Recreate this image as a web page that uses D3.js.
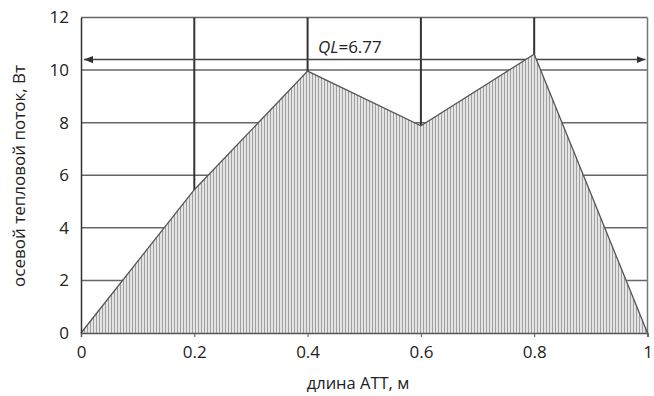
<!DOCTYPE html>
<html><head><meta charset="utf-8">
<script src="https://cdn.jsdelivr.net/npm/d3@7"></script>
<style>body{margin:0;background:#fff}text{font-family:"Open Sans","Noto Sans",sans-serif;fill:#222}</style>
</head><body><svg id="c" width="654" height="396"></svg>
<script>
const xValues = [0, 0.2, 0.4, 0.6, 0.8, 1];
const yValues = [0, 5.45, 9.96, 7.88, 10.6, 0];
const xTicks = [0, 0.2, 0.4, 0.6, 0.8, 1];
const xTickLabels = ["0", "0.2", "0.4", "0.6", "0.8", "1"];
const yTicks = [0, 2, 4, 6, 8, 10, 12];
const arrowLevel = 10.4;
const qlLabel = "=6.77";

const svg = d3.select("#c");
const x = d3.scaleLinear().domain([0, 1]).range([81, 647.5]);
const y = d3.scaleLinear().domain([0, 12]).range([333, 17.5]);

const defs = svg.append("defs");
const pat = defs.append("pattern").attr("id", "stripes").attr("patternUnits", "userSpaceOnUse")
  .attr("width", 3).attr("height", 10);
pat.append("rect").attr("width", 3).attr("height", 10).attr("fill", "#e4e4e4");
pat.append("rect").attr("x", 0).attr("width", 1).attr("height", 10).attr("fill", "#a0a0a0");
const mk = defs.append("marker").attr("id", "ah").attr("viewBox", "0 0 10 10").attr("refX", 10).attr("refY", 5)
  .attr("markerWidth", 6).attr("markerHeight", 6).attr("orient", "auto-start-reverse");
mk.append("path").attr("d", "M0,1L10,5L0,9Z").attr("fill", "#333");

// horizontal grid
svg.append("g").selectAll("line").data(yTicks.filter(d => d > 0)).join("line")
  .attr("x1", x(0)).attr("x2", x(1)).attr("y1", d => y(d)).attr("y2", d => y(d))
  .attr("stroke", "#666").attr("stroke-width", 1.5);
// vertical grid
svg.append("g").selectAll("line").data(xTicks.filter(d => d > 0 && d < 1)).join("line")
  .attr("x1", d => x(d)).attr("x2", d => x(d)).attr("y1", y(12)).attr("y2", y(0))
  .attr("stroke", "#333").attr("stroke-width", 2);
// right border
svg.append("line").attr("x1", x(1)).attr("x2", x(1)).attr("y1", y(12)).attr("y2", y(0))
  .attr("stroke", "#777").attr("stroke-width", 1.5);

// arrow
svg.append("line").attr("x1", x(0) + 3).attr("x2", x(1) - 2).attr("y1", y(arrowLevel)).attr("y2", y(arrowLevel))
  .attr("stroke", "#444").attr("stroke-width", 1.5)
  .attr("marker-start", "url(#ah)").attr("marker-end", "url(#ah)");

// area
const pts = xValues.map((v, i) => [v, yValues[i]]);
svg.append("path").datum(pts)
  .attr("d", d3.area().x(d => x(d[0])).y0(y(0)).y1(d => y(d[1])))
  .attr("fill", "url(#stripes)");
svg.append("path").datum(pts)
  .attr("d", d3.line().x(d => x(d[0])).y(d => y(d[1])))
  .attr("fill", "none").attr("stroke", "#555").attr("stroke-width", 1.3);

// axes
const yAxis = svg.append("g").attr("transform", `translate(${x(0)},0)`)
  .call(d3.axisLeft(y).tickValues(yTicks).tickSize(0).tickPadding(12).tickFormat(d3.format("d")));
yAxis.select(".domain").attr("stroke", "#333").attr("stroke-width", 1.5);
yAxis.selectAll("text").attr("font-size", 17);

const xAxis = svg.append("g").attr("transform", `translate(0,${y(0)})`)
  .call(d3.axisBottom(x).tickValues(xTicks).tickSize(4).tickPadding(9).tickFormat((d, i) => xTickLabels[i]));
xAxis.select(".domain").attr("stroke", "#555").attr("stroke-width", 1.5);
xAxis.selectAll(".tick line").attr("stroke", "#555");
xAxis.selectAll("text").attr("font-size", 17);

// labels
svg.append("text").attr("x", 358).attr("y", 389).attr("text-anchor", "middle").attr("font-size", 16.5)
  .text("длина АТТ, м");
svg.append("text").attr("transform", "translate(25,176) rotate(-90)").attr("text-anchor", "middle").attr("font-size", 17)
  .text("осевой тепловой поток, Вт");
const t = svg.append("text").attr("x", 318).attr("y", 53).attr("font-size", 17);
t.append("tspan").attr("font-style", "italic").text("QL");
t.append("tspan").text(qlLabel);
</script></body></html>
